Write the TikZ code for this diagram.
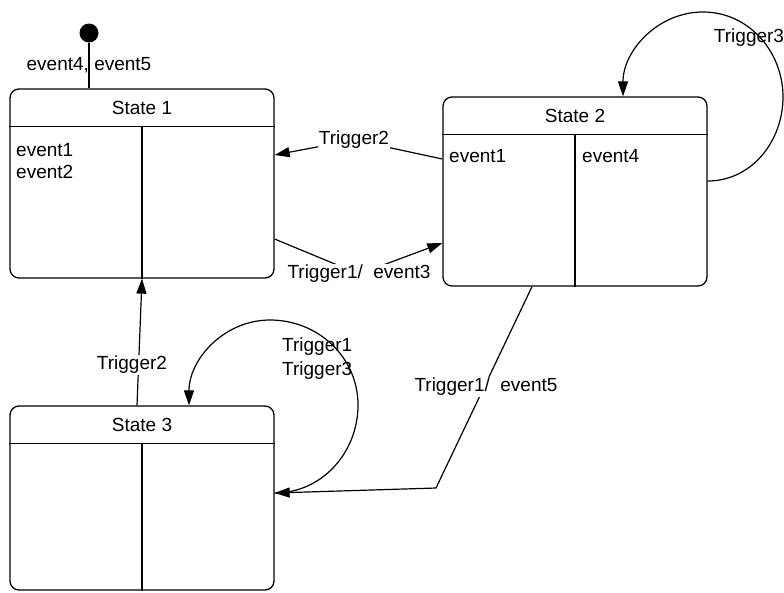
\documentclass[tikz,border=0pt]{standalone}
\usepackage{fontspec}
\setmainfont{Liberation Sans}
\usetikzlibrary{arrows.meta}
\begin{document}
\begin{tikzpicture}[x=1pt,y=-1pt,
  statebox/.style={draw, line width=1.3pt, rounded corners=9pt, minimum width=264pt, inner sep=0pt},
  part/.style={line width=1.3pt},
  conn/.style={line width=1.2pt},
  arr/.style={conn, -{Triangle[length=15pt,width=10pt]}},
  lbl/.style={fill=white, inner sep=1pt, font=\fontsize{19pt}{24pt}\selectfont},
  txt/.style={inner sep=0pt, font=\fontsize{19pt}{24pt}\selectfont}]
\useasboundingbox (0,0) rectangle (784,592);

% states
\node[statebox, minimum height=189pt] (s1) at (142,183.5) {};
\node[statebox, minimum height=189pt] (s2) at (575,191.5) {};
\node[statebox, minimum height=184pt] (s3) at (142,498) {};
\foreach \s in {s1,s2,s3} {
  \draw[part] ([yshift=-38pt]\s.north west) -- ([yshift=-38pt]\s.north east);
  \draw[part] ([yshift=-38pt]\s.north) -- (\s.south);
}
\node[txt] (t1) at ([yshift=-20pt]s1.north) {State 1};
\node[txt] (t2) at ([yshift=-20pt]s2.north) {State 2};
\node[txt] (t3) at ([yshift=-20pt]s3.north) {State 3};

\node[txt, anchor=west] (e11) at (16,150) {event1};
\node[txt, anchor=west] (e12) at (16,172) {event2};
\node[txt, anchor=west] (e21) at (449,156) {event1};
\node[txt, anchor=west] (e24) at (582,156) {event4};

% initial state
\node[circle, fill, inner sep=0pt, minimum size=19pt] (init) at (89,33) {};
\draw[conn] (init) -- (init |- s1.north);
\node[txt] (l0) at (89,65) {event4, event5};

% Trigger2: s2 -> s1
\coordinate (b1) at (354,140);
\draw[arr] ([yshift=32.5pt]s2.west) -- (b1) -- ([yshift=28.5pt]s1.east);
\node[lbl] (l1) at (b1) {Trigger2};

% Trigger1/ event3: s1 -> s2
\coordinate (b2) at (359,274);
\draw[arr] ([yshift=-55.5pt]s1.east) -- (b2) -- ([yshift=-51.5pt]s2.west);
\node[lbl] (l2) at (b2) {Trigger1/\ \ event3};

% Trigger3 loop on s2
\draw[arr] ([yshift=10.5pt]s2.east) to[out=0,in=-90] (783,97) to[out=90,in=0] (703,12) to[out=180,in=90] ([xshift=48pt]s2.north);
\node[txt] (l3) at (749,38) {Trigger3};

% Trigger1/ event5: s2 -> s3
\coordinate (b3) at (436,488);
\draw[arr] ([xshift=-43pt]s2.south) -- (b3) -- ([yshift=5pt]s3.east);
\node[lbl] (l4) at (486,387) {Trigger1/\ \ event5};

% loop on s3
\draw[arr] ([yshift=5pt]s3.east) to[out=0,in=-90] (358,405) to[out=90,in=0] (270,320) to[out=180,in=90] ([xshift=47pt]s3.north);
\node[txt, anchor=west, align=left] (l5) at (282,359) {Trigger1\\Trigger3};

% Trigger2: s3 -> s1
\draw[arr] ([xshift=-5pt]s3.north) -- (s1.south);
\node[lbl] (l6) at (132,365) {Trigger2};
\end{tikzpicture}
\end{document}
